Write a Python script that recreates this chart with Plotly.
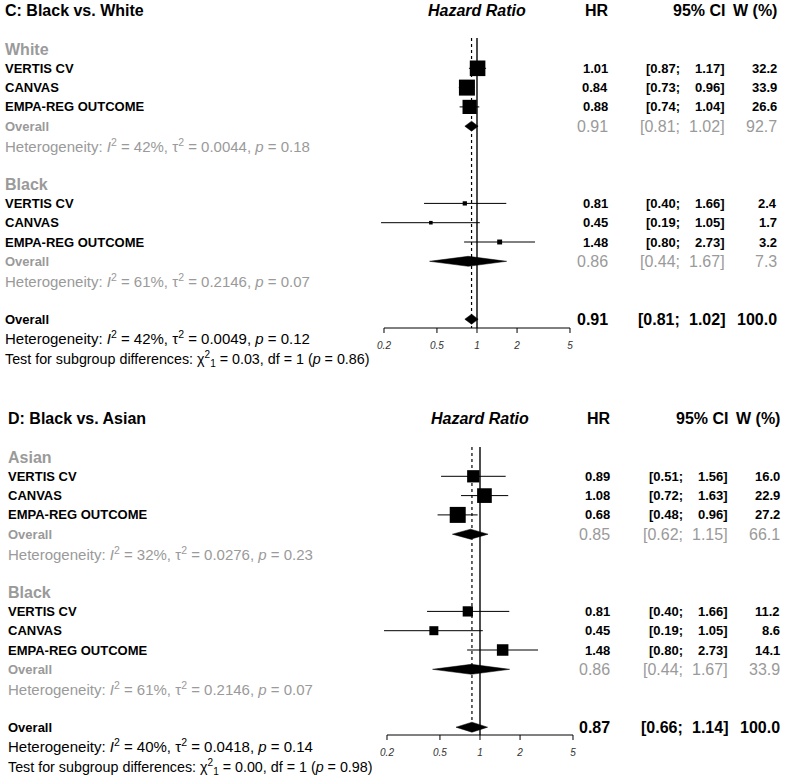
import math
import plotly.graph_objects as go

# ---------------- data ----------------
studies = ["VERTIS CV", "CANVAS", "EMPA-REG OUTCOME"]
tick_vals = [0.2, 0.5, 1, 2, 5]
tick_text = ["0.2", "0.5", "1", "2", "5"]

# Panel C: Black vs. White
c_title = "C: Black vs. White"
c_g1_name = "White"
c_g1_hr = [1.01, 0.84, 0.88]
c_g1_lo = [0.87, 0.73, 0.74]
c_g1_hi = [1.17, 0.96, 1.04]
c_g1_w = [32.2, 33.9, 26.6]
c_g1_overall = [0.91, 0.81, 1.02, 92.7]
c_g1_het = ["42%", "0.0044", "0.18"]
c_g2_name = "Black"
c_g2_hr = [0.81, 0.45, 1.48]
c_g2_lo = [0.40, 0.19, 0.80]
c_g2_hi = [1.66, 1.05, 2.73]
c_g2_w = [2.4, 1.7, 3.2]
c_g2_overall = [0.86, 0.44, 1.67, 7.3]
c_g2_het = ["61%", "0.2146", "0.07"]
c_total = [0.91, 0.81, 1.02, 100.0]
c_total_het = ["42%", "0.0049", "0.12"]
c_test = ["0.03", "1", "0.86"]

# Panel D: Black vs. Asian
d_title = "D: Black vs. Asian"
d_g1_name = "Asian"
d_g1_hr = [0.89, 1.08, 0.68]
d_g1_lo = [0.51, 0.72, 0.48]
d_g1_hi = [1.56, 1.63, 0.96]
d_g1_w = [16.0, 22.9, 27.2]
d_g1_overall = [0.85, 0.62, 1.15, 66.1]
d_g1_het = ["32%", "0.0276", "0.23"]
d_g2_name = "Black"
d_g2_hr = [0.81, 0.45, 1.48]
d_g2_lo = [0.40, 0.19, 0.80]
d_g2_hi = [1.66, 1.05, 2.73]
d_g2_w = [11.2, 8.6, 14.1]
d_g2_overall = [0.86, 0.44, 1.67, 33.9]
d_g2_het = ["61%", "0.2146", "0.07"]
d_total = [0.87, 0.66, 1.14, 100.0]
d_total_het = ["40%", "0.0418", "0.14"]
d_test = ["0.00", "1", "0.98"]

panel_c = dict(title=c_title,
               groups=[(c_g1_name, c_g1_hr, c_g1_lo, c_g1_hi, c_g1_w, c_g1_overall, c_g1_het),
                       (c_g2_name, c_g2_hr, c_g2_lo, c_g2_hi, c_g2_w, c_g2_overall, c_g2_het)],
               total=c_total, total_het=c_total_het, test=c_test)
panel_d = dict(title=d_title,
               groups=[(d_g1_name, d_g1_hr, d_g1_lo, d_g1_hi, d_g1_w, d_g1_overall, d_g1_het),
                       (d_g2_name, d_g2_hr, d_g2_lo, d_g2_hi, d_g2_w, d_g2_overall, d_g2_het)],
               total=d_total, total_het=d_total_het, test=d_test)

# ---------------- layout / style ----------------
W, H = 786, 777
FONT = "Liberation Sans, Arial, Helvetica, sans-serif"
GREY = "#9a9a9a"
BLACK = "#000000"
ROW_H = 19.3
BOX_MAX = 16.0

geo_c = dict(row0=49, top=0, vtop=38, axis=328, x02=384, x5=570, lab=3,
             c_hr=610, c_lo=682, c_hi=727, c_w=779, h_hr=611, h_ci=727, h_w=779)
geo_d = dict(row0=457, top=392, vtop=447, axis=735, x02=387, x5=573, lab=6,
             c_hr=612, c_lo=685, c_hi=730, c_w=782, h_hr=613, h_ci=730, h_w=782)
DOM_PAD = 10

fig = go.Figure()
annotations = []


def het_text(h):
    return ("Heterogeneity: <i>I</i><sup>2</sup> = %s, \u03c4<sup>2</sup> = %s, <i>p</i> = %s"
            % (h[0], h[1], h[2]))


def add_panel(n, d, g):
    xa = "x" if n == 1 else "x%d" % n
    ya = "y" if n == 1 else "y%d" % n
    lg0, lg1 = math.log10(0.2), math.log10(5)
    ppd = (g["x5"] - g["x02"]) / (lg1 - lg0)

    def px_of(v):
        return g["x02"] + ppd * (math.log10(v) - lg0)

    def row_of(px):
        return (px - g["row0"]) / ROW_H

    def paper_y(row):
        return 1 - (g["row0"] + row * ROW_H) / H

    xmin, xmax = 0.17, 6.0
    ybot_px = g["axis"] + DOM_PAD
    axis_row = row_of(g["axis"])
    layout_x = dict(type="log", range=[math.log10(xmin), math.log10(xmax)],
                    domain=[px_of(xmin) / W, px_of(xmax) / W], anchor=ya,
                    showgrid=False, zeroline=False, showline=False, ticks="",
                    tickvals=tick_vals, ticktext=tick_text,
                    tickfont=dict(family=FONT, size=10, color="#333333", style="italic"))
    layout_y = dict(range=[row_of(ybot_px), row_of(g["top"])],
                    domain=[1 - ybot_px / H, 1 - g["top"] / H], anchor=xa,
                    showgrid=False, zeroline=False, showline=False,
                    showticklabels=False, ticks="")
    key = "" if n == 1 else str(n)
    fig.layout["xaxis" + key] = layout_x
    fig.layout["yaxis" + key] = layout_y

    def line(x, y, width=1, dash="solid", color=BLACK):
        fig.add_trace(go.Scatter(x=x, y=y, mode="lines", xaxis=xa, yaxis=ya,
                                 line=dict(color=color, width=width, dash=dash),
                                 hoverinfo="skip", showlegend=False))

    # axis line and ticks
    line([tick_vals[0], tick_vals[-1]], [axis_row, axis_row])
    tx, ty = [], []
    for t in tick_vals:
        tx += [t, t, None]
        ty += [axis_row, axis_row + 5 / ROW_H, None]
    line(tx, ty)
    # reference lines
    vtop = row_of(g["vtop"])
    line([1, 1], [vtop, axis_row], width=1.4)
    line([d["total"][0], d["total"][0]], [vtop, axis_row], width=1.2, dash="dot")

    def ann(text, xpx, row, anchor, size, color=BLACK, bold=False, italic=False):
        if bold:
            text = "<b>%s</b>" % text
        if italic:
            text = "<i>%s</i>" % text
        annotations.append(dict(text=text, x=xpx / W, xref="paper", y=paper_y(row), yref="paper",
                                xanchor=anchor, yanchor="middle", showarrow=False,
                                font=dict(family=FONT, size=size, color=color)))

    def value_cols(row, vals, size, color, bold):
        ann("%.2f" % vals[0], g["c_hr"], row, "right", size, color, bold)
        ann("[%.2f;" % vals[1], g["c_lo"], row, "right", size, color, bold)
        ann("%.2f]" % vals[2], g["c_hi"], row, "right", size, color, bold)
        ann("%.1f" % vals[3], g["c_w"], row, "right", size, color, bold)

    def diamond(row, vals):
        hh = 5 / ROW_H
        fig.add_trace(go.Scatter(x=[vals[1], vals[0], vals[2], vals[0], vals[1]],
                                 y=[row, row - hh, row, row + hh, row],
                                 mode="lines", fill="toself", fillcolor=BLACK,
                                 line=dict(color=BLACK, width=0.5), xaxis=xa, yaxis=ya,
                                 hoverinfo="skip", showlegend=False))

    # header
    ann(d["title"], g["lab"], -2, "left", 16, bold=True)
    ann("Hazard Ratio", px_of(1), -2, "center", 16, bold=True, italic=True)
    ann("HR", g["h_hr"], -2, "right", 16, bold=True)
    ann("95% CI", g["h_ci"], -2, "right", 16, bold=True)
    ann("W (%)", g["h_w"], -2, "right", 16, bold=True)

    wmax = max(max(gr[4]) for gr in d["groups"])
    for gi, (name, hr, lo, hi, w, ov, het) in enumerate(d["groups"]):
        base = gi * 7
        ann(name, g["lab"], base, "left", 16, GREY, bold=True)
        rows = [base + 1 + i for i in range(len(hr))]
        cx, cy = [], []
        for r, l_, h_ in zip(rows, lo, hi):
            cx += [l_, h_, None]
            cy += [r, r, None]
        line(cx, cy, width=1)
        fig.add_trace(go.Scatter(x=hr, y=rows, mode="markers", xaxis=xa, yaxis=ya,
                                 marker=dict(symbol="square", color=BLACK, opacity=1,
                                             size=[BOX_MAX * math.sqrt(v / wmax) for v in w],
                                             line=dict(width=0)),
                                 cliponaxis=False, hoverinfo="skip", showlegend=False))
        for r, s, a, b, c, ww in zip(rows, studies, hr, lo, hi, w):
            ann(s, g["lab"], r, "left", 13, bold=True)
            value_cols(r, [a, b, c, ww], 13, BLACK, True)
        orow = base + 4
        ann("Overall", g["lab"], orow, "left", 13, GREY, bold=True)
        diamond(orow, ov)
        value_cols(orow, ov, 16, GREY, False)
        ann(het_text(het), g["lab"], base + 5, "left", 15, GREY)

    ann("Overall", g["lab"], 14, "left", 13, bold=True)
    diamond(14, d["total"])
    value_cols(14, d["total"], 16, BLACK, True)
    ann(het_text(d["total_het"]), g["lab"], 14.95, "left", 15)
    t = d["test"]
    ann("Test for subgroup differences: \u03c7<sup>2</sup><sub>1</sub> = %s, df = %s (<i>p</i> = %s)"
        % (t[0], t[1], t[2]), g["lab"], 16.05, "left", 14.3)


add_panel(1, panel_c, geo_c)
add_panel(2, panel_d, geo_d)

fig.update_layout(width=W, height=H, autosize=False,
                  margin=dict(l=0, r=0, t=0, b=0),
                  paper_bgcolor="white", plot_bgcolor="white",
                  annotations=annotations, showlegend=False,
                  font=dict(family=FONT))
fig.write_html("out.html", config={"displayModeBar": False, "staticPlot": True},
               post_script="document.body.style.margin='0px';document.body.style.overflow='hidden';")
